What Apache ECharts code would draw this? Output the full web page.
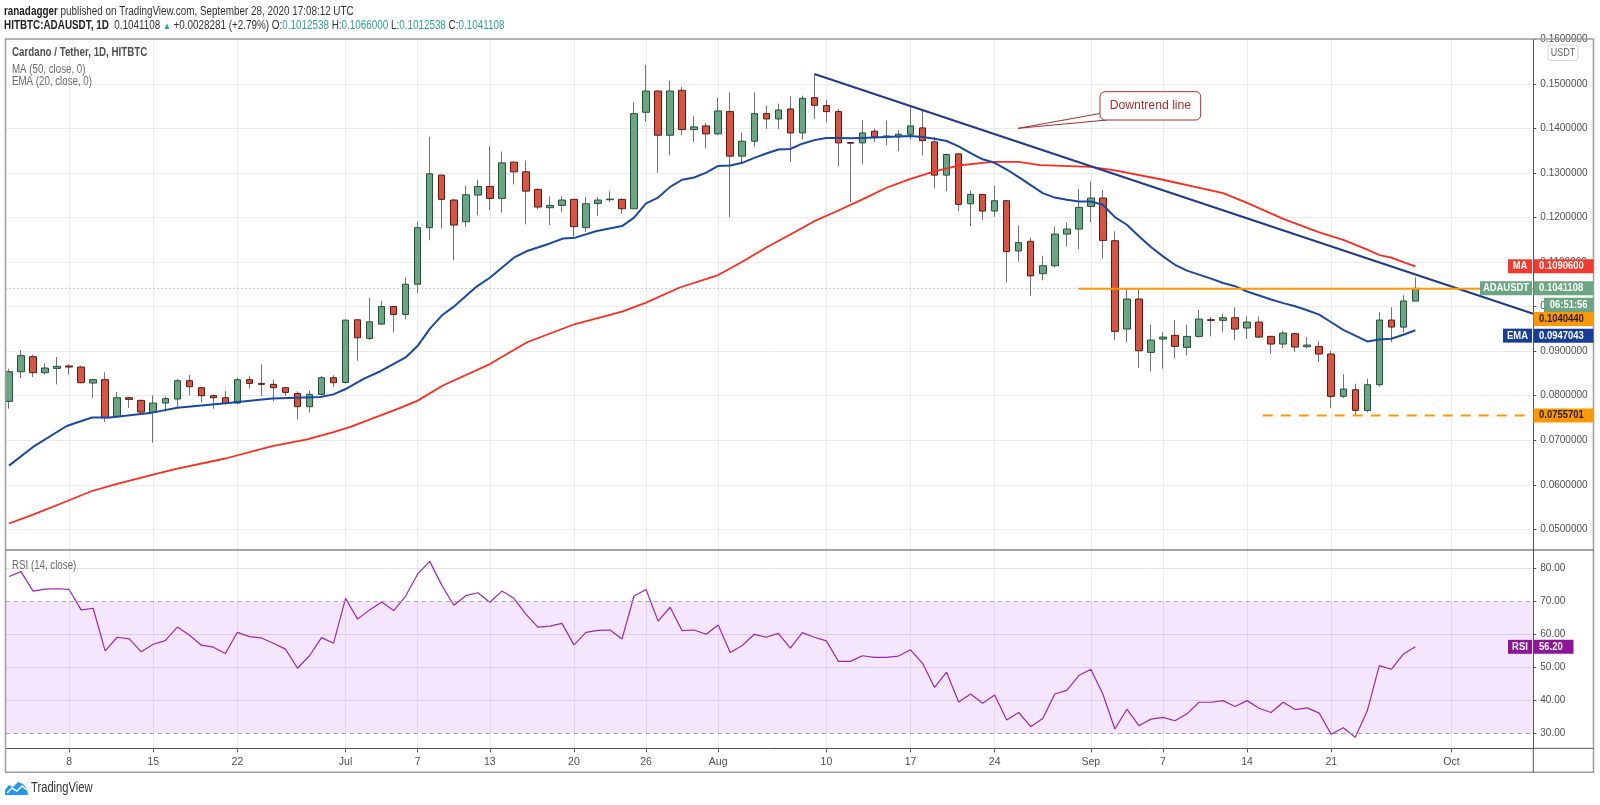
<!DOCTYPE html>
<html>
<head>
<meta charset="utf-8">
<title>ADAUSDT 1D</title>
<script src="https://cdn.jsdelivr.net/npm/echarts/dist/echarts.min.js"></script>
<style>
html, body { margin: 0; padding: 0; background: #fff; }
#main { width: 1600px; height: 805px; }
</style>
</head>
<body>
<div id="main"></div>
<script>
var FONT = "'Liberation Sans', Arial, sans-serif";

// daily candles, index 0 = Jun 3 2020 ... index 117 = Sep 28 2020
var open = [
    .07873, .08539, .08876, .08517, .08614, .08667, .08644, .08285, .0836, .07528,
    .07955, .07895, .07625, .07835, .07925, .08337, .0818, .08, .07955, .07835,
    .0836, .08277, .08255, .0818, .08052, .07753, .0803, .08404,
    .08297, .09705, .09287, .09608, .10004, .09824, .10504, .11774, .12954, .12394,
    .11908, .12506, .127, .12431, .13245, .13028, .12633, .12222, .12274, .12409,
    .11774, .12319, .12401, .12409, .12199, .14365, .14843, .1385, .14858, .13977, .14059,
    .1388, .1438, .1338, .13715, .14335, .14216, .1444, .13902, .14694, .14515,
    .1438, .13686, .13678, .1394, .13805, .13813, .13872, .14014, .137, .12954,
    .13432, .12311, .12521, .12147, .12379, .11251, .11468, .1074, .10919, .1163, .11743,
    .12251, .12439, .1148, .09497, .10171, .08973, .09272, .09355, .09085, .09332,
    .09707, .09692, .09751, .0952, .09654, .09332, .0916, .09392, .091, .09108,
    .08936, .07985, .08135, .07671, .08247, .09699, .0954, .1012538
];
var close = [
    .08539, .08899, .08517, .08622, .08659, .08644, .08292, .0836, .07506, .07955,
    .07918, .07633, .07835, .07933, .08337, .08202, .08, .07955, .07828, .0836,
    .08277, .08255, .0818, .08075, .07753, .0803, .08404, .08292,
    .09697, .09302, .0966, .10004, .09824, .10504, .11774, .12984, .12409, .11833,
    .12513, .127, .12431, .1323, .13028, .12595, .12237, .12274, .12394, .11796,
    .12311, .12394, .12416, .12199, .14335, .14843, .1385, .14843, .13977, .14037, .1388,
    .14395, .1338, .13715, .14335, .14216, .14417, .13902, .14679, .14522, .1438,
    .13678, .13671, .13902, .13813, .13835, .13872, .14059, .1373, .12954, .13417,
    .12297, .12521, .12147, .12379, .11236, .11438, .10691, .10919, .1163, .11743, .12229,
    .12439, .11488, .09445, .10171, .0901, .0925, .09317, .09108, .09332, .09722,
    .09692, .09751, .09497, .09654, .09317, .0916, .09407, .09093, .09138, .08936,
    .07985, .0815, .07671, .08247, .09699, .09542, .1012827, .1041108
];
var high = [
    .08607, .09026, .08921, .08727, .08869, .08704, .08674, .08375, .08524, .08082,
    .0797, .0791, .08007, .07985, .08382, .08464, .08195, .0803, .08105, .08412,
    .08449, .08704, .0836, .08187, .08097, .0812, .08442, .08457,
    .0971, .09705, .10205, .10131, .10019, .10653, .11908, .13813, .12969, .12423,
    .12722, .12842, .13603, .13484, .1326, .13282, .12655, .12476, .12476, .12423,
    .12461, .12461, .12595, .12431, .14589, .15433, .14858, .15075, .14933, .14276, .14126,
    .14686, .14813, .1391, .14813, .14522, .14559, .14724, .14739, .15224, .14649,
    .1444, .13686, .14193, .14, .14178, .13962, .145, .14403, .13813, .13432,
    .13432, .1261, .12535, .12722, .12394, .11826, .1155, .11144, .11802, .11892, .12641,
    .12813, .12626, .1169, .10395, .10395, .09594, .09422, .09699, .09594, .09931,
    .09766, .09834, .09984, .09781, .09781, .09347, .0946, .09407, .09317, .0922,
    .0901, .08487, .08269, .08382, .09879, .09984, .10258, .1066
];
var low = [
    .07708, .08397, .08419, .08472, .08255, .08472, .08277, .07948, .07408, .07506,
    .07723, .0761, .06944, .07648, .0773, .08007, .0785, .07708, .07805, .0782,
    .08157, .07993, .07873, .07993, .07468, .07618, .08022, .08195,
    .0828, .08786, .0925, .09593, .09421, .0972, .10302, .1149, .11751, .11049,
    .11789, .1205, .1217, .1211, .12745, .11848, .12184, .11833, .12125, .11572,
    .11677, .12035, .12349, .12087, .12192, .14149, .13006, .13402, .1385, .137, .13551,
    .1385, .12013, .1323, .13589, .13992, .13992, .13252, .13753, .14216, .14141,
    .13155, .12349, .13208, .137, .13626, .13491, .13753, .13394, .12655, .12595,
    .12147, .11811, .11945, .1202, .10541, .11012, .10243, .1059, .10882, .11353, .11293,
    .119, .11076, .09243, .09205, .08621, .08546, .08606, .08846, .08906, .0931,
    .09332, .0943, .09243, .0928, .09295, .08943, .0907, .08981, .09055, .08756,
    .07723, .07948, .07557, .07626, .0821, .09205, .0942, .1012538
];

// RSI(14), one value per candle
var rsi = [
    77.5, 79.0, 73.1, 73.7, 73.8, 73.6, 67.4, 67.9, 55.0, 59.1, 58.6, 54.7, 57.0, 58.1,
    62.2, 59.8, 56.7, 56.1, 54.2, 60.6, 59.3, 58.9, 57.3, 55.5, 49.7, 53.5, 59.0, 57.3,
    70.9, 64.6, 67.4, 69.8, 67.2, 71.6, 78.3, 82.1, 74.9, 68.8, 71.7, 72.6, 69.7, 73.1,
    70.9, 66.1, 62.2, 62.5, 63.3, 56.8, 60.6, 61.2, 61.3, 58.6, 71.6, 73.6, 64.0, 68.2,
    61.1, 61.3, 60.0,
    62.8, 54.5, 56.6, 60.0, 59.1, 60.3, 55.8, 60.5, 59.1, 58.0, 51.8, 51.8, 53.5, 53.0,
    53.0, 53.4, 55.3, 51.2, 43.9, 48.5, 39.5, 41.9, 39.1, 41.6, 34.0, 36.3, 32.0, 34.5,
    41.9, 43.0, 47.5,
    49.4, 41.9, 31.3, 37.3, 32.3, 34.3, 34.8, 33.8, 35.9, 39.4, 39.4, 39.9, 38.1, 39.9,
    37.6, 36.3, 39.4, 37.2, 37.7, 36.1, 29.7, 31.7, 28.8, 36.8, 50.5, 49.4, 54.0, 56.2
];

// EMA 20 and MA 50: [candle index, value]
var ema20 = [
    [0, .0643], [2, .0685], [4.8, .0732], [6.9, .0751], [8.4, .0751], [11.9, .0762], [14, .0773],
    [18, .0783], [21.9, .0794], [25.9, .0797], [27, .0803], [28, .0815], [29.5, .0838], [30.9, .0855],
    [33, .0886], [34, .0912], [35, .0950], [36, .0980], [37, .1000], [38.9, .1045], [40, .1065],
    [42, .1110], [43.1, .1125], [45, .1142], [46.1, .1153], [47.1, .1155], [48.9, .1170], [51, .1181],
    [52, .1200], [53, .1232], [54, .1245], [55, .1269], [56, .1285], [57, .1290], [58, .1301],
    [59, .1316], [60, .1317], [61, .1323], [62, .1334], [63, .1344], [64, .1353], [65, .1354],
    [66, .1366], [67, .1374], [68, .1379], [69, .1379], [70, .1378], [71, .1379], [73, .1381],
    [75, .1383], [76, .1381], [77, .1377], [78, .1372], [79, .1360], [80, .1345], [81, .1331],
    [82, .1323], [83, .1308], [84, .1291], [85, .1273], [86, .1255], [87, .1245], [88, .1240],
    [89, .1236], [90, .1236], [91, .1229], [92, .1201], [93, .1184], [94, .1158], [95, .1134],
    [96, .1113], [97, .1094], [98, .1081], [99, .1072], [100, .1063], [101, .1053], [102, .1046],
    [103, .1034], [104, .1025], [105, .1016], [106, .1008], [107, .1001], [108, .0992], [109, .0982],
    [110, .0965], [111, .0948], [112, .0935], [113, .0922], [114, .0926], [115, .0928], [116, .0937],
    [117, .0947043]
];
var ma50 = [
    [0, .0513], [2, .0533], [4.8, .0563], [6.9, .0586], [9, .0602], [11.9, .0622], [14, .0636],
    [18, .0659], [21.9, .0687], [24.8, .0702], [27, .0718], [28.4, .0730], [32.5, .0772], [34, .0789],
    [36.1, .0823], [40, .0871], [43.1, .0920], [47.1, .0961], [51, .0989], [53, .1009], [55.8, .1043],
    [59, .1071], [61, .1101], [63, .1133], [65, .1162], [67, .1192], [69, .1216], [71, .1241],
    [73, .1267], [75, .1287], [77, .1304], [79, .1317], [81, .1323], [82, .1325], [84, .1325],
    [85.8, .1318], [90, .1314], [92, .1306], [96, .1285], [101, .1255], [103, .1233], [106, .1197],
    [109, .1167], [111, .1150], [113, .1128], [114, .1116], [115, .1110], [116, .1100], [117, .10906]
];

// drawings on the chart
var trendLine = [[67, .15224], [126.8, .0984]];
var resistance = [[89, .104044], [126.8, .104044]];
var support = [[104.3, .0755701], [126.8, .0755701]];

var tickIdx = [5, 12, 19, 28, 34, 40, 47, 53, 59, 68, 75, 82, 90, 96, 103, 110, 120];
var tickText = ['8', '15', '22', 'Jul', '7', '13', '20', '26', 'Aug', '10', '17', '24', 'Sep', '7', '14', '21', 'Oct'];
var priceTicks = [0.05, 0.06, 0.07, 0.08, 0.09, 0.10, 0.11, 0.12, 0.13, 0.14, 0.15, 0.16];
var rsiTicks = [30, 40, 50, 60, 70, 80];

var X_MIN = -0.275, X_MAX = 126.81;
var GRID_C = '#ebebeb';
var AXIS_TXT = '#4f4f4f';

var n = close.length;
var wicks = open.map(function (o, i) { return [i, o, close[i], low[i], high[i]]; });
var bodies = open.map(function (o, i) {
    return [i, o, close[i], Math.min(o, close[i]), Math.max(o, close[i])];
});
var rsiData = rsi.map(function (v, i) { return [i, v]; });
var lastClose = close[n - 1];
var lastLine = [[X_MIN, lastClose], [X_MAX, lastClose]];

var chart = echarts.init(document.getElementById('main'));

chart.setOption({
    animation: false,
    backgroundColor: '#fff',
    grid: [
        {left: 5.7, right: 66.7, top: 39, height: 511},
        {left: 5.7, right: 66.7, top: 550, height: 198.3}
    ],
    xAxis: [{
        type: 'value', gridIndex: 0, min: X_MIN, max: X_MAX,
        axisLine: {show: false, onZero: false},
        axisTick: {show: false, customValues: tickIdx},
        axisLabel: {show: false, customValues: tickIdx},
        splitLine: {show: true, lineStyle: {color: GRID_C}}
    }, {
        type: 'value', gridIndex: 1, min: X_MIN, max: X_MAX,
        axisLine: {show: true, onZero: false, lineStyle: {color: '#555'}},
        axisTick: {show: true, length: 4, customValues: tickIdx, lineStyle: {color: '#555'}},
        axisLabel: {
            customValues: tickIdx, color: AXIS_TXT, fontSize: 10.5, fontFamily: FONT, margin: 8,
            formatter: function (v) { return tickText[tickIdx.indexOf(Math.round(v))] || ''; }
        },
        splitLine: {show: true, lineStyle: {color: GRID_C}}
    }],
    yAxis: [{
        type: 'value', gridIndex: 0, position: 'right', min: 0.04535, max: 0.16011,
        axisLine: {show: true, onZero: false, lineStyle: {color: '#555'}},
        axisTick: {show: true, length: 3, customValues: priceTicks, lineStyle: {color: '#555'}},
        axisLabel: {
            customValues: priceTicks, color: AXIS_TXT, fontSize: 10, fontFamily: FONT, margin: 7,
            formatter: function (v) { return v.toFixed(7); }
        },
        splitLine: {show: true, lineStyle: {color: GRID_C}}
    }, {
        type: 'value', gridIndex: 1, position: 'right', min: 25.45, max: 85.55,
        axisLine: {show: true, onZero: false, lineStyle: {color: '#555'}},
        axisTick: {show: true, length: 3, customValues: rsiTicks, lineStyle: {color: '#555'}},
        axisLabel: {
            customValues: rsiTicks, color: AXIS_TXT, fontSize: 10, fontFamily: FONT, margin: 7,
            formatter: function (v) { return v.toFixed(2); }
        },
        splitLine: {show: true, lineStyle: {color: ['transparent', '#e3e3e3', '#e3e3e3', '#e3e3e3', 'transparent', '#e3e3e3']}}
    }],
    series: [{
        // last price, dotted
        type: 'line', xAxisIndex: 0, yAxisIndex: 0, data: lastLine, symbol: 'none', silent: true,
        lineStyle: {color: '#6f9f8c', width: 1, type: [1, 3]}
    }, {
        name: 'MA', type: 'line', xAxisIndex: 0, yAxisIndex: 0, data: ma50, symbol: 'none',
        lineStyle: {color: '#ff2b1c', width: 1.8}
    }, {
        name: 'EMA', type: 'line', xAxisIndex: 0, yAxisIndex: 0, data: ema20, symbol: 'none',
        lineStyle: {color: '#1a48a6', width: 2}
    }, {
        // wicks
        type: 'candlestick', xAxisIndex: 0, yAxisIndex: 0, data: wicks, barWidth: 1,
        encode: {x: 0, y: [1, 2, 3, 4]},
        itemStyle: {color: '#737375', color0: '#737375', borderColor: '#737375', borderColor0: '#737375', borderWidth: 1}
    }, {
        // bodies
        type: 'candlestick', xAxisIndex: 0, yAxisIndex: 0, data: bodies, barWidth: 7,
        encode: {x: 0, y: [1, 2, 3, 4]},
        itemStyle: {color: '#6ba583', color0: '#d75442', borderColor: '#225437', borderColor0: '#5b1a13', borderWidth: 1}
    }, {
        type: 'line', xAxisIndex: 0, yAxisIndex: 0, data: trendLine, symbol: 'none',
        lineStyle: {color: '#1c3d8c', width: 2}
    }, {
        type: 'line', xAxisIndex: 0, yAxisIndex: 0, data: resistance, symbol: 'none',
        lineStyle: {color: '#ff9800', width: 2}
    }, {
        type: 'line', xAxisIndex: 0, yAxisIndex: 0, data: support, symbol: 'none',
        lineStyle: {color: '#ff9800', width: 2, type: [10, 8]}
    }, {
        name: 'RSI', type: 'line', xAxisIndex: 1, yAxisIndex: 1, data: rsiData, symbol: 'none',
        lineStyle: {color: '#9c27b0', width: 1.2},
        markArea: {silent: true, itemStyle: {color: 'rgba(155,38,238,0.11)'}, data: [[{yAxis: 30}, {yAxis: 70}]]},
        markLine: {
            silent: true, symbol: 'none', label: {show: false},
            lineStyle: {color: '#a8a0ad', type: [4, 4], width: 1},
            data: [{yAxis: 30}, {yAxis: 70}]
        }
    }]
});

// ---- texts, frame and price tags
function txt(x, y, text, font, fill, align, sx, extra) {
    var st = {text: text, font: font, fill: fill, align: align || 'left', verticalAlign: 'middle',
        textAlign: align || 'left', textVerticalAlign: 'middle'};
    if (extra) { for (var k in extra) st[k] = extra[k]; }
    return {type: 'text', x: x, y: y, scaleX: sx || 1, z: 20, style: st};
}
function line(x1, y1, x2, y2, color, w) {
    return {type: 'line', z: 15, shape: {x1: x1, y1: y1, x2: x2, y2: y2}, style: {stroke: color, lineWidth: w || 1}};
}
function box(x, y, w, h, fill) {
    return {type: 'rect', z: 18, shape: {x: x, y: y, width: w, height: h}, style: {fill: fill}};
}
function tag(cy, name, nameX, value, color, textColor, w) {
    var els = [];
    if (name) {
        els.push(box(nameX, cy - 7, 1532 - nameX, 14, color));
        els.push(txt((nameX + 1532) / 2, cy, name, 'bold 10.5px ' + FONT, '#fff', 'center', 0.9));
    }
    els.push(box(1533.5, cy - 7, w || 60, 14, color));
    els.push(txt(1539, cy, value, 'bold 10.5px ' + FONT, textColor, 'left', 0.9));
    return els;
}

var py = function (v) { return chart.convertToPixel({yAxisIndex: 0}, v); };
var pr = function (v) { return chart.convertToPixel({yAxisIndex: 1}, v); };

var chg = lastClose - close[n - 2];
var teal = '#2fa394';
var g = [];

g.push(txt(4, 12, '{a|ranadagger} published on TradingView.com, September 28, 2020 17:08:12 UTC',
    '12.5px ' + FONT, '#333', 'left', 0.79, {rich: {a: {fill: '#222', font: 'bold 12.5px ' + FONT}}}));
g.push(txt(4, 26,
    '{b|HITBTC:ADAUSDT, 1D}  ' + lastClose.toFixed(7) + ' {g|\u25B2} +' + chg.toFixed(7) +
    ' (+' + (chg / close[n - 2] * 100).toFixed(2) + '%) O:{v|' + open[n - 1].toFixed(7) +
    '} H:{v|' + high[n - 1].toFixed(7) + '} L:{v|' + low[n - 1].toFixed(7) + '} C:{v|' + lastClose.toFixed(7) + '}',
    '12.5px ' + FONT, '#333', 'left', 0.79, {rich: {
        b: {font: 'bold 12.5px ' + FONT, fill: '#222'},
        g: {font: '10px ' + FONT, fill: teal},
        v: {font: '12.5px ' + FONT, fill: teal}
    }}));

g.push(txt(12, 53, 'Cardano / Tether, 1D, HITBTC', 'bold 12.5px ' + FONT, '#505050', 'left', 0.78));
g.push(txt(12, 69.5, 'MA (50, close, 0)', '12px ' + FONT, '#6a6a6a', 'left', 0.81));
g.push(txt(12, 82, 'EMA (20, close, 0)', '12px ' + FONT, '#6a6a6a', 'left', 0.81));
g.push(txt(12, 566, 'RSI (14, close)', '12px ' + FONT, '#6a6a6a', 'left', 0.81));

// frame
g.push({type: 'rect', z: 15, shape: {x: 5.5, y: 39, width: 1588, height: 733.3},
    style: {fill: null, stroke: '#9e9e9e', lineWidth: 1.5}});
g.push(line(5.5, 550, 1593.5, 550, '#4a4a4a', 1.2));
g.push(line(1533, 748.3, 1593.5, 748.3, '#555', 1));
g.push(line(1533.3, 748.3, 1533.3, 772.3, '#555', 1));

// USDT badge
g.push({type: 'rect', z: 18, shape: {x: 1548, y: 45, width: 30, height: 15.5, r: 3},
    style: {fill: '#fff', stroke: '#d4d4d4', lineWidth: 1}});
g.push(txt(1563, 53, 'USDT', '10px ' + FONT, '#666', 'center', 0.9));

// price tags
var maLast = ma50[ma50.length - 1][1];
var emaLast = ema20[ema20.length - 1][1];
var yLast = py(lastClose);
g = g.concat(tag(py(maLast), 'MA', 1508, maLast.toFixed(7), '#f2392c', '#fff'));
g = g.concat(tag(yLast, 'ADAUSDT', 1480, lastClose.toFixed(7), '#6ba583', '#fff'));
g.push(box(1544, yLast + 9.5, 49.5, 15, '#6ba583'));
g.push(txt(1568.7, yLast + 17, '06:51:56', 'bold 10.5px ' + FONT, '#fff', 'center', 0.9));
g = g.concat(tag(yLast + 30.7, null, 0, resistance[0][1].toFixed(7), '#ff9800', '#1e1e1e'));
g = g.concat(tag(py(emaLast) + 5.4, 'EMA', 1503, emaLast.toFixed(7), '#173c99', '#fff'));
g = g.concat(tag(py(support[0][1]), null, 0, support[0][1].toFixed(7), '#ff9800', '#1e1e1e'));
g = g.concat(tag(pr(rsi[n - 1]), 'RSI', 1508, rsi[n - 1].toFixed(2), '#8e1599', '#fff', 40));

// "Downtrend line" callout
var cc = '#a8302c';
g.push({type: 'polygon', z: 16, shape: {points: [[1101, 113.3], [1018.3, 128.3], [1107, 120]]},
    style: {fill: '#fff', stroke: cc, lineWidth: 1}});
g.push({type: 'rect', z: 17, shape: {x: 1100, y: 91.7, width: 100.7, height: 28.3, r: 5},
    style: {fill: '#fff', stroke: cc, lineWidth: 1}});
g.push(txt(1150.4, 105.8, 'Downtrend line', '13px ' + FONT, cc, 'center', 0.94));

// TradingView logo
g.push({type: 'polygon', z: 16, shape: {points: [[5, 795], [5, 790], [9, 785], [13, 787], [18, 782], [23, 784], [27, 789], [28, 795]]},
    style: {fill: '#2196f3'}});
g.push({type: 'polyline', z: 17, shape: {points: [[7, 793], [12, 788], [17, 791], [22, 786], [27, 790]]},
    style: {stroke: '#fff', lineWidth: 1.5, fill: null}});
g.push(txt(31, 788.5, 'TradingView', '14px ' + FONT, '#333', 'left', 0.8));

chart.setOption({graphic: g});
</script>
</body>
</html>
